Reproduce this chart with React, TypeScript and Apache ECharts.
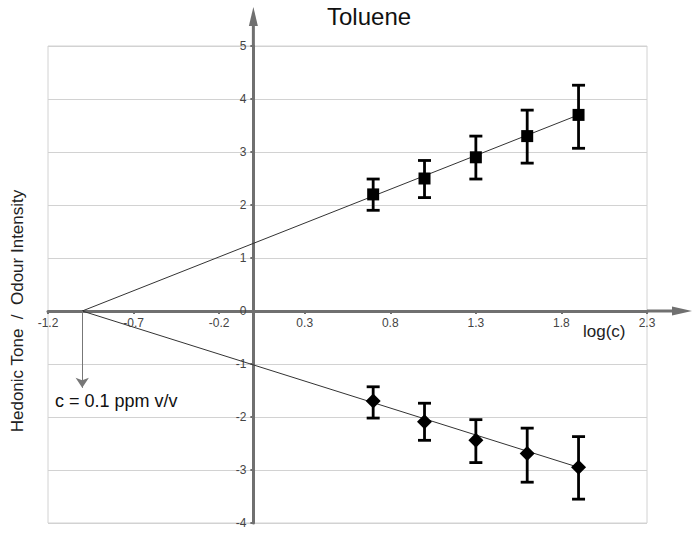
import React, { useEffect, useRef } from "react";
import * as echarts from "echarts";

const FONT = "'Liberation Sans', Arial, sans-serif";

// log(c) values of the measured concentrations
const logC = [0.7, 1.0, 1.3, 1.6, 1.9];

// Odour intensity (squares) with error-bar limits
const odourIntensity = [2.2, 2.5, 2.9, 3.3, 3.7];
const odourLow = [1.9, 2.14, 2.49, 2.79, 3.07];
const odourHigh = [2.49, 2.84, 3.3, 3.79, 4.26];

// Hedonic tone (diamonds) with error-bar limits
const hedonicTone = [-1.7, -2.09, -2.44, -2.69, -2.95];
const hedonicLow = [-2.02, -2.44, -2.86, -3.23, -3.55];
const hedonicHigh = [-1.43, -1.74, -2.05, -2.21, -2.37];

// Trend lines, both starting at the odour threshold log(c) = -1
const odourTrend = [
  [-1, 0],
  [1.9, 3.7],
];
const hedonicTrend = [
  [-1, 0],
  [1.9, -2.95],
];

// Threshold annotation arrow (data coords)
const thresholdArrow = [
  [-1, 0],
  [-1, -1.45],
];

// Axis ranges / ticks
const xMin = -1.2;
const xMax = 2.3;
const xInterval = 0.5;
const yMin = -4;
const yMax = 5;
const yInterval = 1;

const titleText = "Toluene";
const xName = "log(c)";
const yName = "Hedonic Tone  /  Odour Intensity";
const annotationText = "c = 0.1 ppm v/v";

const AXIS_COLOR = "#707070";
const GRID = { left: 48, right: 51, top: 46, bottom: 13 };
const W = 698;
const H = 536;

export default function App() {
  const ref = useRef<HTMLDivElement>(null);

  useEffect(() => {
    const chart = echarts.init(ref.current!, null, { renderer: "svg" });

    const gridW = W - GRID.left - GRID.right;
    const gridH = H - GRID.top - GRID.bottom;
    // shift the axes (line, ticks, labels) so that they cross at (0, 0)
    const xAxisOffset = -((0 - yMin) / (yMax - yMin)) * gridH;
    const yAxisOffset = -((0 - xMin) / (xMax - xMin)) * gridW;

    const errorSeries = (low: number[], high: number[]) => ({
      type: "custom",
      silent: true,
      z: 3,
      data: logC.map((x, i) => [x, low[i], high[i]]),
      encode: { x: 0, y: [1, 2] },
      renderItem: (_params: any, api: any) => {
        const x = api.value(0);
        const p1 = api.coord([x, api.value(1)]);
        const p2 = api.coord([x, api.value(2)]);
        const hw = 6.5;
        const style = { stroke: "#000", lineWidth: 2.8 };
        return {
          type: "group",
          children: [
            { type: "line", shape: { x1: p1[0], y1: p1[1], x2: p2[0], y2: p2[1] }, style },
            { type: "line", shape: { x1: p1[0] - hw, y1: p1[1], x2: p1[0] + hw, y2: p1[1] }, style },
            { type: "line", shape: { x1: p2[0] - hw, y1: p2[1], x2: p2[0] + hw, y2: p2[1] }, style },
          ],
        };
      },
    });

    const option: any = {
      animation: false,
      backgroundColor: "#fff",
      textStyle: { fontFamily: FONT },
      title: {
        text: titleText,
        left: 327,
        top: 4,
        padding: 0,
        textStyle: { fontSize: 24, fontWeight: "normal", color: "#111", fontFamily: FONT },
      },
      grid: {
        ...GRID,
        show: true,
        borderColor: "#d2d2d2",
        borderWidth: 1,
        backgroundColor: "transparent",
      },
      xAxis: {
        type: "value",
        min: xMin,
        max: xMax,
        interval: xInterval,
        position: "bottom",
        offset: xAxisOffset,
        axisLine: { show: true, onZero: false, lineStyle: { color: AXIS_COLOR, width: 3 } },
        axisTick: { show: true, length: 3, lineStyle: { color: AXIS_COLOR, width: 2 } },
        axisLabel: {
          margin: 6,
          fontSize: 12,
          color: "#444",
          fontFamily: FONT,
          showMinLabel: true,
          showMaxLabel: true,
          formatter: (v: number) => Number(v).toFixed(1),
        },
        splitLine: { show: false },
      },
      yAxis: {
        type: "value",
        min: yMin,
        max: yMax,
        interval: yInterval,
        position: "left",
        offset: yAxisOffset,
        axisLine: { show: true, onZero: false, lineStyle: { color: AXIS_COLOR, width: 3 } },
        axisTick: { show: true, length: 3, lineStyle: { color: AXIS_COLOR, width: 2 } },
        axisLabel: {
          margin: 7,
          fontSize: 12,
          color: "#444",
          fontFamily: FONT,
          formatter: (v: number) => String(Math.round(v)),
        },
        splitLine: { show: true, lineStyle: { color: "#d2d2d2", width: 1 } },
      },
      series: [
        {
          type: "line",
          data: odourTrend,
          symbol: "none",
          silent: true,
          z: 2,
          lineStyle: { color: "#333", width: 1 },
        },
        {
          type: "line",
          data: hedonicTrend,
          symbol: "none",
          silent: true,
          z: 2,
          lineStyle: { color: "#333", width: 1 },
          markLine: {
            silent: true,
            symbol: ["none", "arrow"],
            symbolSize: 10,
            label: { show: false },
            lineStyle: { color: "#777", width: 1, type: "solid" },
            data: [[{ coord: thresholdArrow[0] }, { coord: thresholdArrow[1] }]],
          },
        },
        errorSeries(odourLow, odourHigh),
        errorSeries(hedonicLow, hedonicHigh),
        {
          type: "scatter",
          symbol: "rect",
          symbolSize: 12,
          z: 4,
          silent: true,
          itemStyle: { color: "#000", opacity: 1 },
          data: logC.map((x, i) => [x, odourIntensity[i]]),
        },
        {
          type: "scatter",
          symbol: "diamond",
          symbolSize: 15,
          z: 4,
          silent: true,
          itemStyle: { color: "#000", opacity: 1 },
          data: logC.map((x, i) => [x, hedonicTone[i]]),
        },
      ],
    };

    chart.setOption(option);

    const px = (x: number, y: number) => chart.convertToPixel({ gridIndex: 0 }, [x, y]) as number[];
    const o = px(0, 0);
    const r = px(xMax, 0);
    const t = px(0, yMax);

    chart.setOption({
      graphic: [
        {
          type: "line",
          z: 1,
          silent: true,
          shape: { x1: r[0], y1: o[1], x2: r[0] + 28, y2: o[1] },
          style: { stroke: AXIS_COLOR, lineWidth: 3 },
        },
        {
          type: "polygon",
          z: 1,
          silent: true,
          shape: {
            points: [
              [r[0] + 25, o[1] - 4.5],
              [r[0] + 45, o[1]],
              [r[0] + 25, o[1] + 4.5],
            ],
          },
          style: { fill: AXIS_COLOR },
        },
        {
          type: "line",
          z: 1,
          silent: true,
          shape: { x1: o[0], y1: t[1], x2: o[0], y2: t[1] - 22 },
          style: { stroke: AXIS_COLOR, lineWidth: 3 },
        },
        {
          type: "polygon",
          z: 1,
          silent: true,
          shape: {
            points: [
              [o[0] - 4.5, t[1] - 20],
              [o[0], t[1] - 39],
              [o[0] + 4.5, t[1] - 20],
            ],
          },
          style: { fill: AXIS_COLOR },
        },
        {
          type: "text",
          z: 5,
          silent: true,
          x: 583,
          y: 331,
          style: {
            text: xName,
            fontSize: 17,
            fontFamily: FONT,
            fill: "#222",
            align: "left",
            verticalAlign: "middle",
          },
        },
        {
          type: "text",
          z: 5,
          silent: true,
          x: 55,
          y: 401,
          style: {
            text: annotationText,
            fontSize: 18,
            fontFamily: FONT,
            fill: "#111",
            align: "left",
            verticalAlign: "middle",
          },
        },
        {
          type: "text",
          z: 5,
          silent: true,
          x: 17,
          y: 311,
          rotation: Math.PI / 2,
          style: {
            text: yName,
            fontSize: 17,
            fontFamily: FONT,
            fill: "#222",
            align: "center",
            verticalAlign: "middle",
          },
        },
      ],
    });

    return () => {
      chart.dispose();
    };
  }, []);

  return (
    <div
      ref={ref}
      style={{ position: "fixed", left: 0, top: 0, width: W, height: H, background: "#fff" }}
    />
  );
}
